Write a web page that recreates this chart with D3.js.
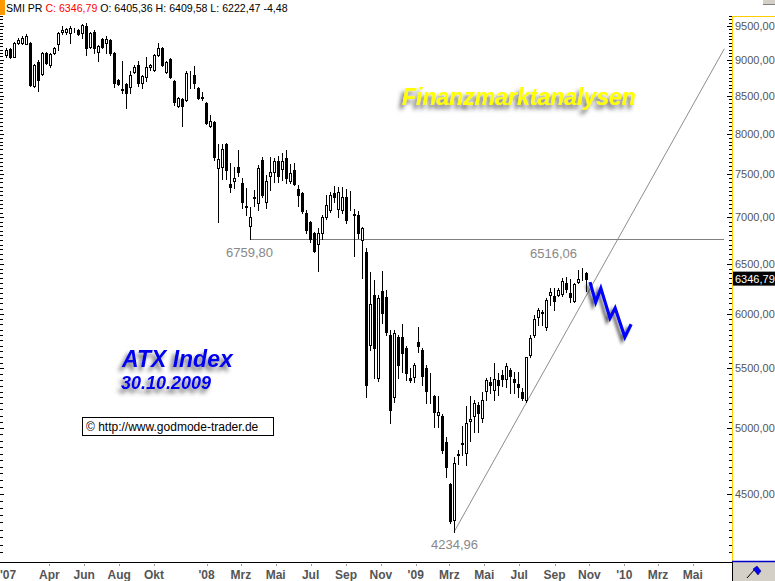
<!DOCTYPE html>
<html><head><meta charset="utf-8">
<script src="https://cdn.jsdelivr.net/npm/d3@7"></script>
<style>body{margin:0;background:#fff;overflow:hidden} svg{display:block}</style>
</head><body><svg id="c" width="775" height="581"></svg>
<script>
// ---- data (weekly candles, 15.01.2007 - 26.10.2009) ----
const opens = [9070,9158,9041,9246,9246,9230,9246,8632,8970,8800,9100,8927,9100,9230,9410,9410,9395,9440,9440,9395,
9500,9187,9410,9114,9305,9246,9290,9100,8715,8590,8660,8618,8828,8927,8673,8757,8899,8856,9070,9172,
8828,9012,8701,8361,8455,8441,8785,8785,8605,8482,8401,8098,8150,7573,7585,7869,7382,7417,7585,7394,
7127,6902,7220,7161,7670,7172,7477,7525,7658,7561,7695,7417,7549,7323,7276,7047,6947,6826,6707,6826,
7003,7081,7276,7092,7081,7230,7225,7036,7025,6750,6622,5707,6182,5419,6221,6162,5799,5252,5781,5781,
5680,5414,5423,5735,5662,5502,5300,5260,5103,5095,4888,4571,4316,4788,4873,4803,5055,5095,5186,5079,
5303,5380,5311,5397,5440,5406,5484,5406,5363,5294,5227,5617,5799,5968,6006,5873,6182,6172,6182,6192,
6302,6201,6122,6312,6390,6405.36];
const highs = [9172,9172,9260,9320,9350,9380,9260,8941,8998,9114,9114,9100,9187,9410,9500,9470,9500,9470,9455,9530,
9545,9410,9440,9216,9320,9350,9305,9114,8729,8984,8673,8842,8927,8984,8785,9041,8941,9085,9246,9187,
8984,9026,8715,8482,8468,8842,8842,8913,8618,8550,8414,8242,8163,7869,7869,7881,7633,7585,7794,7453,
7335,7115,7311,7609,7707,7489,7707,7695,7720,7757,7794,7621,7633,7370,7288,7081,6958,6837,6880,7025,
7253,7288,7358,7346,7346,7323,7300,7092,7070,6891,6665,6414,6332,6182,6424,6231,5846,5846,5799,5901,
5698,5502,5546,5873,5680,5528,5458,5269,5260,5111,4927,4578,4773,4826,5015,5177,5260,5227,5210,5294,
5414,5423,5546,5458,5484,5546,5502,5467,5467,5328,5599,5799,5987,6055,6035,6152,6251,6251,6251,6352,
6362,6342,6302,6434,6455,6409.58];
const lows = [9041,9026,9035,9230,9230,9230,8632,8618,8563,8785,8941,8899,9085,9143,9380,9380,9246,9410,9365,9320,
9070,9172,9100,8984,9172,9100,9070,8618,8646,8536,8335,8536,8814,8632,8605,8701,8856,8842,9055,8913,
8814,8743,8374,8348,8098,8428,8605,8605,8455,8441,8124,8085,7670,6947,7441,7441,7288,7335,7477,7104,
7025,6759.80,7127,7081,7230,7104,7311,7406,7406,7429,7394,7394,7370,7127,7047,6826,6729,6622,6424,6760,
6980,7058,7172,7003,7047,6936,7081,6580,6772,6352,5252,5662,5419,5388,5911,5799,5039,5210,5414,5467,
5397,5380,5380,5644,5354,5202,5202,5007,5007,4803,4622,4296,4234.96,4720,4788,4712,4896,4967,4967,5047,
5227,5286,5227,5269,5346,5337,5286,5286,5252,5227,5210,5599,5781,5892,5892,5846,6084,6035,6172,6172,
6211,6113,6113,6302,6332,6222.47];
const closes = [9143,9041,9246,9290,9320,9350,8646,8927,8715,9100,8955,9085,9172,9395,9440,9455,9470,9445,9380,9515,
9172,9395,9172,9200,9187,9305,9100,8673,8660,8577,8536,8785,8899,8673,8771,8899,8927,9070,9172,8927,
8970,8757,8414,8468,8361,8813,8780,8673,8468,8475,8137,8163,7707,7682,7806,7549,7346,7453,7525,7172,
7115,7003,7230,7573,7253,7417,7525,7658,7477,7658,7453,7513,7382,7253,7070,6858,6760,6632,6826,7003,
7138,7253,7230,7288,7230,6969,7235,7025,6826,6880,5354,6093,5680,6152,6006,5827,5144,5818,5528,5635,
5458,5397,5528,5698,5432,5303,5295,5127,5127,4826,4697,4309,4727,4795,4880,5039,5071,5202,5119,5227,
5397,5354,5406,5354,5406,5519,5432,5380,5337,5244,5599,5772,5949,6035,6016,6132,6211,6122,6231,6322,
6241,6162,6291,6342,6398,6346.79];

const priceTicks = [4500,5000,5500,6000,6500,7000,7500,8000,8500,9000,9500];
const monthDates = ["2007-01-01","2007-04-01","2007-06-01","2007-08-01","2007-10-01","2008-01-01","2008-03-01","2008-05-01","2008-07-01","2008-09-01","2008-11-01","2009-01-01","2009-03-01","2009-05-01","2009-07-01","2009-09-01","2009-11-01","2010-01-01","2010-03-01","2010-05-01"];
const monthLabels = ["'07","Apr","Jun","Aug","Okt","'08","Mrz","Mai","Jul","Sep","Nov","'09","Mrz","Mai","Jul","Sep","Nov","'10","Mrz","Mai"];

const resistance = {start:"2008-03-17", end:"2010-06-25", value:6759.80};
const trendDates = ["2009-03-09","2010-06-25"];
const trendValues = [4234.96, 9160];
const zigDates = ["2009-11-02","2009-11-12","2009-11-21","2009-12-07","2009-12-16","2010-01-02","2010-01-13"];
const zigValues = [6312,6113,6251,5959,6055,5781,5901];

const lastClose = 6346.79;

// ---- chart ----
const parse = d3.timeParse("%Y-%m-%d");
const weeks = d3.timeMonday.range(new Date(2007,0,15), new Date(2009,10,2));
const candles = weeks.map((d,i)=>({date:d,o:opens[i],h:highs[i],l:lows[i],c:closes[i]}));

const x = d3.scaleTime().domain([new Date(2007,0,15), new Date(2009,9,26)]).range([6,586]);
const y = d3.scaleLog().domain([4500,9500]).range([494,26]);
const de = d3.formatLocale({decimal:",",thousands:".",grouping:[3],currency:["","€"]});
const f2 = de.format(".2f");

const svg = d3.select("#c");
const defs = svg.append("defs");
function shadow(id, dx, dy, sd, col, op){
  const f = defs.append("filter").attr("id",id).attr("x","-20%").attr("y","-60%").attr("width","140%").attr("height","220%");
  f.append("feGaussianBlur").attr("in","SourceAlpha").attr("stdDeviation",sd);
  f.append("feOffset").attr("dx",dx).attr("dy",dy).attr("result","b");
  f.append("feFlood").attr("flood-color",col).attr("flood-opacity",op);
  f.append("feComposite").attr("in2","b").attr("operator","in");
  const m = f.append("feMerge"); m.append("feMergeNode"); m.append("feMergeNode").attr("in","SourceGraphic");
}
shadow("sh",-3,4,2,"#333",0.75);
shadow("shz",-3,3,1.8,"#222",0.7);

svg.append("rect").attr("width",775).attr("height",581).attr("fill","#fff");

// header
svg.append("rect").attr("x",0).attr("y",0).attr("width",5).attr("height",15).attr("fill","#ff9900");
const hdr = svg.append("text").attr("x",6).attr("y",11.5).attr("font-family","Liberation Sans, Arial, sans-serif").attr("font-size",10.6).attr("fill","#000");
hdr.append("tspan").text("SMI PR ");
hdr.append("tspan").attr("fill","#ff0000").text("C: " + f2(lastClose));
hdr.append("tspan").text(" O: " + f2(opens[opens.length-1]) + " H: " + f2(highs[highs.length-1]) + " L: " + f2(lows[lows.length-1]) + " -4,48");

// top right small bar
svg.append("rect").attr("x",763).attr("y",0).attr("width",12).attr("height",4).attr("fill","#d4d0c8");
svg.append("line").attr("x1",763).attr("x2",775).attr("y1",4.5).attr("y2",4.5).attr("stroke","#808080");

// minor/major ticks left and right (every 50)
const minor = d3.range(4100, 9651, 50);
const tk = svg.append("g").attr("stroke","#000").attr("shape-rendering","crispEdges");
minor.forEach(v=>{
  const yy = Math.round(y(v))+0.5;
  const major = v%500===0;
  tk.append("line").attr("x1", major?727:729).attr("x2",732).attr("y1",yy).attr("y2",yy);
  tk.append("line").attr("x1",0).attr("x2", major?4:3).attr("y1",yy).attr("y2",yy);
});

// right axis labels
svg.append("g").selectAll("text").data(priceTicks).join("text")
  .attr("x",735).attr("y",d=>y(d)).attr("dy","0.36em")
  .attr("font-family","Liberation Sans, Arial, sans-serif").attr("font-size",11).attr("fill","#555")
  .text(d=>f2(d));

// yellow border
svg.append("line").attr("x1",732.5).attr("x2",732.5).attr("y1",16).attr("y2",562).attr("stroke","#ffcc00").attr("shape-rendering","crispEdges");
svg.append("line").attr("x1",732).attr("x2",775).attr("y1",16.5).attr("y2",16.5).attr("stroke","#ffcc00").attr("shape-rendering","crispEdges");

// last value box
const ly = y(lastClose);
svg.append("rect").attr("x",733).attr("y",ly-7).attr("width",42).attr("height",14).attr("fill","#000");
svg.append("text").attr("x",735).attr("y",ly).attr("dy","0.36em").attr("font-family","Liberation Sans, Arial, sans-serif").attr("font-size",11).attr("fill","#fff").text(f2(lastClose));

// lines
svg.append("line")
  .attr("x1",x(parse(resistance.start))).attr("x2",x(parse(resistance.end)))
  .attr("y1",Math.round(y(resistance.value))+0.5).attr("y2",Math.round(y(resistance.value))+0.5)
  .attr("stroke","#808080").attr("stroke-width",1).attr("shape-rendering","crispEdges");
svg.append("line")
  .attr("x1",x(parse(trendDates[0]))).attr("y1",y(trendValues[0]))
  .attr("x2",x(parse(trendDates[1]))).attr("y2",y(trendValues[1]))
  .attr("stroke","#808080").attr("stroke-width",0.9);

// candles
const cg = svg.append("g").attr("shape-rendering","crispEdges");
candles.forEach(c=>{
  const px = Math.round(x(c.date));
  cg.append("line").attr("x1",px+0.5).attr("x2",px+0.5)
    .attr("y1",Math.round(y(c.h))).attr("y2",Math.round(y(c.l))+1).attr("stroke","#000");
  const t = Math.round(y(Math.max(c.o,c.c))), b = Math.round(y(Math.min(c.o,c.c)));
  cg.append("rect").attr("x",px-0.5).attr("width",2).attr("y",t+0.5).attr("height",Math.max(0,b-t))
    .attr("fill", c.c>=c.o ? "#fff" : "#000").attr("stroke","#000");
});

// value labels
const lab = svg.append("g").attr("font-family","Liberation Sans, Arial, sans-serif").attr("font-size",13).attr("fill","#888");
lab.append("text").attr("x",226).attr("y",257).text(f2(resistance.value));
lab.append("text").attr("x",530).attr("y",258).text("6516,06");
lab.append("text").attr("x",431).attr("y",549).text(f2(trendValues[0]));

// zigzag
svg.append("path")
  .attr("d", d3.line().x((d,i)=>x(parse(zigDates[i]))).y((d,i)=>y(zigValues[i]))(zigValues))
  .attr("fill","none").attr("stroke","#0000ff").attr("stroke-width",3.2).attr("stroke-linejoin","miter")
  .attr("filter","url(#shz)");

// titles
svg.append("text").attr("x",402).attr("y",105).attr("font-family","Liberation Sans, Arial, sans-serif")
  .attr("font-weight","bold").attr("font-style","italic").attr("font-size",23).attr("fill","#ffff00")
  .attr("filter","url(#sh)").text("Finanzmarktanalysen");
svg.append("text").attr("x",122).attr("y",367).attr("font-family","Liberation Sans, Arial, sans-serif")
  .attr("font-weight","bold").attr("font-style","italic").attr("font-size",23).attr("fill","#0000ee")
  .attr("filter","url(#sh)").text("ATX Index");
svg.append("text").attr("x",121).attr("y",389).attr("font-family","Liberation Sans, Arial, sans-serif")
  .attr("font-weight","bold").attr("font-style","italic").attr("font-size",18).attr("fill","#0000ee")
  .attr("filter","url(#sh)").text("30.10.2009");

// url box
svg.append("rect").attr("x",82.5).attr("y",417.5).attr("width",191).attr("height",18).attr("fill","#fff").attr("stroke","#000").attr("shape-rendering","crispEdges");
svg.append("text").attr("x",86).attr("y",431).attr("font-family","Liberation Sans, Arial, sans-serif").attr("font-size",12).attr("fill","#000").text("\u00A9 http://www.godmode-trader.de");

// x axis
svg.append("line").attr("x1",0).attr("x2",732).attr("y1",562.5).attr("y2",562.5).attr("stroke","#000").attr("shape-rendering","crispEdges");
const xg = svg.append("g");
monthDates.forEach((ds,i)=>{
  const px = x(parse(ds));
  if (px >= 0) xg.append("line").attr("x1",Math.round(px)+0.5).attr("x2",Math.round(px)+0.5).attr("y1",564).attr("y2",566).attr("stroke","#999").attr("shape-rendering","crispEdges");
  const t = xg.append("text").attr("y",579).attr("font-family","Liberation Sans Narrow, Arial Narrow, Liberation Sans, Arial, sans-serif")
    .attr("font-weight","bold").attr("font-size",12).attr("fill","#555").text(monthLabels[i]);
  const w = t.node().getComputedTextLength();
  t.attr("x", Math.max(0, px - w/2));
});

// bottom right box
svg.append("rect").attr("x",732).attr("y",562).attr("width",43).attr("height",19).attr("fill","#d4d0c8");
svg.append("line").attr("x1",732).attr("x2",775).attr("y1",561.5).attr("y2",561.5).attr("stroke","#0000cc").attr("stroke-width",1.5);
svg.append("line").attr("x1",732.5).attr("x2",732.5).attr("y1",562).attr("y2",581).attr("stroke","#000");
svg.append("line").attr("x1",747).attr("y1",578).attr("x2",755).attr("y2",569).attr("stroke","#000").attr("stroke-width",1);
svg.append("path").attr("d","M753,569 L757,566 L761,571 L758,575 Z").attr("fill","#0000ff").attr("stroke","#000033").attr("stroke-width",0.5);
</script></body></html>
